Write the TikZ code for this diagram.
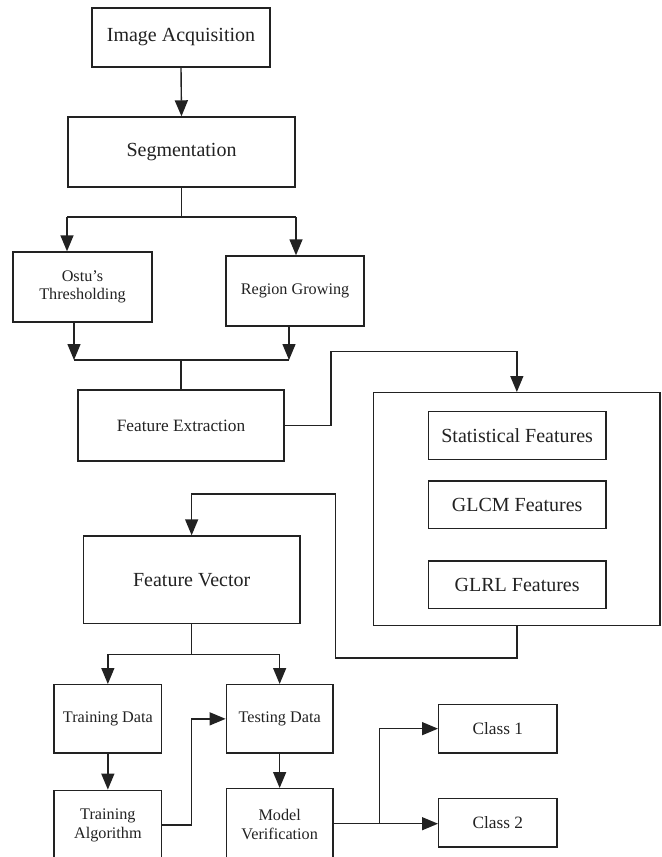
\documentclass[tikz,border=0pt]{standalone}
\usepackage{fontspec}
\setmainfont{Liberation Serif}
\usetikzlibrary{arrows.meta}
\definecolor{ink}{HTML}{222222}
\tikzset{
  box/.style={draw=ink, line width=1.4bp, inner sep=0pt, align=center, text=ink},
  big/.style={font=\fontsize{20bp}{22bp}\selectfont},
  mid/.style={font=\fontsize{17.3bp}{19bp}\selectfont},
  small/.style={font=\fontsize{16.2bp}{18.5bp}\selectfont},
  conn/.style={draw=ink, line width=1.4bp},
  arr/.style={conn, -{Triangle[length=16bp,width=13bp]}}
}
\begin{document}
\begin{tikzpicture}[x=1bp, y=-1bp]
\path[use as bounding box, clip] (0,0) rectangle (662,857);
\fill[white] (0,0) rectangle (662,857);

% nodes
\node[box, big, minimum width=178bp, minimum height=59bp] (acq) at (181,37.5) {Image Acquisition};
\node[box, big, minimum width=227bp, minimum height=70bp] (seg) at (181.5,152) {Segmentation};
\node[box, small, minimum width=139bp, minimum height=70bp] (ostu) at (82.5,287) {Ostu's\\Thresholding};
\node[box, small, minimum width=138bp, minimum height=70bp] (region) at (295,291) {Region Growing};
\node[box, mid, minimum width=206bp, minimum height=71bp] (fe) at (181,425.5) {Feature Extraction};
\node[box, minimum width=286.3bp, minimum height=232.6bp] (bigbox) at (516.85,509) {};
\node[box, big, minimum width=177.7bp, minimum height=47.6bp] (stat) at (517.15,435.5) {Statistical Features};
\node[box, big, minimum width=177.7bp, minimum height=47.7bp] (glcm) at (517.15,504.85) {GLCM Features};
\node[box, big, minimum width=177.7bp, minimum height=47.7bp] (glrl) at (517.15,584.85) {GLRL Features};
\node[box, big, minimum width=216.7bp, minimum height=87.7bp] (fv) at (191.65,579.85) {Feature Vector};
\node[box, small, minimum width=107.7bp, minimum height=68.3bp] (trd) at (107.85,718.85) {Training Data};
\node[box, small, minimum width=106.7bp, minimum height=68.3bp] (ted) at (279.65,718.85) {Testing Data};
\node[box, small, minimum width=107.7bp, minimum height=69.7bp] (tra) at (107.85,825.15) {Training\\Algorithm};
\node[box, small, minimum width=106.7bp, minimum height=71.3bp] (mv) at (279.65,824.35) {Model\\Verification};
\node[box, mid, minimum width=118.3bp, minimum height=48.7bp] (c1) at (497.85,728.65) {Class 1};
\node[box, mid, minimum width=118.3bp, minimum height=48.3bp] (c2) at (497.85,822.85) {Class 2};

% helper coordinates
\coordinate (ox) at (67,217);
\coordinate (rx) at (296,217);
\coordinate (m1) at (74,360);
\coordinate (m2) at (289,360);
\coordinate (k1) at (331,351.7);
\coordinate (r1) at (335.3,658);
\coordinate (r2) at (335.3,494);
\coordinate (f1) at (191.65,654.7);
\coordinate (t1) at (191.7,770);
\coordinate (b1) at (379.7,823.7);

% connectors
\draw[arr] (acq.south) -- (seg.north);
\draw[conn] (seg.south) -- (seg.south |- ox);
\draw[conn] (ox) -- (rx);
\draw[arr] (ox) -- (ox |- ostu.north);
\draw[arr] (rx) -- (rx |- region.north);

\draw[arr] (ostu.south -| m1) -- (m1);
\draw[arr] (region.south -| m2) -- (m2);
\draw[conn] (m1) -- (m2);
\draw[conn] (fe.north) -- (fe.north |- m1);

\draw[arr] (fe.east) -| (k1) -| (bigbox.north);
\draw[arr] (bigbox.south) |- (r1) -- (r2) -| (fv.north);

\draw[conn] (fv.south) -- (f1);
\draw[arr] (f1) -| (trd.north);
\draw[arr] (f1) -| (ted.north);

\draw[arr] (trd.south) -- (tra.north);
\draw[arr] (ted.south) -- (mv.north);
\draw[arr] (tra.east) -| (t1) |- (ted.west);

\draw[arr] (b1 -| mv.east) -- (b1 -| c2.west);
\draw[arr] (b1) |- (c1.west);
\end{tikzpicture}
\end{document}
